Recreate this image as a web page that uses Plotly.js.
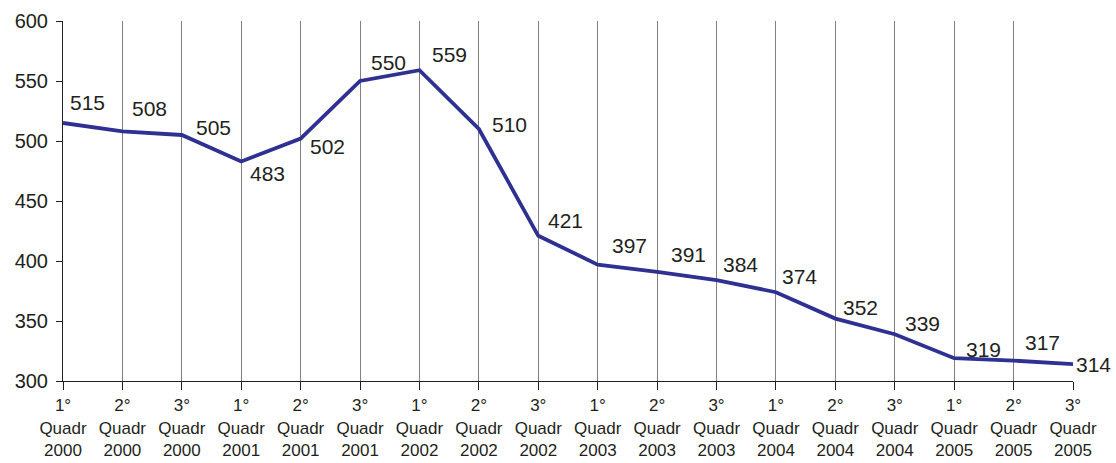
<!DOCTYPE html>
<html>
<head>
<meta charset="utf-8">
<script src="https://cdn.plot.ly/plotly-3.0.1.min.js"></script>
<style>html,body{margin:0;padding:0;background:#fff;}#chart{width:1116px;height:463px;}</style>
</head>
<body>
<div id="chart"></div>
<script>
const quarters = ["1°","2°","3°","1°","2°","3°","1°","2°","3°","1°","2°","3°","1°","2°","3°","1°","2°","3°"];
const years = ["2000","2000","2000","2001","2001","2001","2002","2002","2002","2003","2003","2003","2004","2004","2004","2005","2005","2005"];
const values = [515,508,505,483,502,550,559,510,421,397,391,384,374,352,339,319,317,314];
// label offsets in pixels (style only)
const labelDx = [24,27,32,26,27,28,30,31,27,32,31,24,24,25,28,29,29,20];
const labelDy = [-21,-23,-8,12,8,-19,-16,-5,-15,-19,-17,-16,-16,-11,-11,-9,-18,0];

const idx = values.map((v,i)=>i);
const tickText = quarters.map((q,i)=>q+"<br>Quadr<br>"+years[i]);

const trace = {
  x: idx, y: values, type: "scatter", mode: "lines",
  line: {color: "#2E3192", width: 3.8},
  hoverinfo: "none"
};

const annotations = values.map((v,i)=>({
  x: i, y: v, xref: "x", yref: "y", text: String(v), showarrow: false,
  xanchor: "center", yanchor: "middle",
  xshift: labelDx[i], yshift: -labelDy[i],
  font: {family: "Liberation Sans, Arial, sans-serif", size: 21, color: "#231F20"}
}));

const layout = {
  width: 1116, height: 463,
  margin: {l: 63, r: 43, t: 21, b: 82},
  paper_bgcolor: "#fff", plot_bgcolor: "#fff",
  showlegend: false,
  font: {family: "Liberation Sans, Arial, sans-serif", color: "#231F20"},
  annotations: annotations,
  xaxis: {
    range: [0, values.length-1], tickmode: "array", tickvals: idx, ticktext: tickText,
    showgrid: true, gridcolor: "#808080", gridwidth: 1,
    showline: true, linecolor: "#231F20", linewidth: 1,
    ticks: "outside", ticklen: 8, tickcolor: "#231F20", ticklabelstandoff: 1,
    tickfont: {size: 17}, zeroline: false, fixedrange: true
  },
  yaxis: {
    range: [300, 600], tickvals: [300,350,400,450,500,550,600],
    showgrid: false, showline: true, linecolor: "#231F20", linewidth: 1,
    ticks: "outside", ticklen: 6, tickcolor: "#231F20", ticklabelstandoff: 4,
    tickfont: {size: 20}, zeroline: false, fixedrange: true
  }
};

Plotly.newPlot("chart", [trace], layout, {displayModeBar: false, staticPlot: true});
</script>
</body>
</html>
